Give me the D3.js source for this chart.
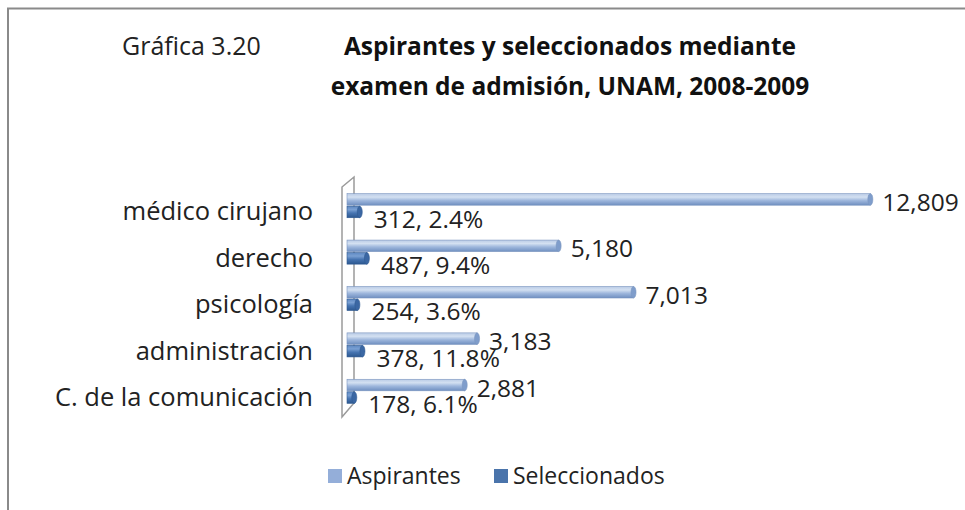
<!DOCTYPE html>
<html>
<head>
<meta charset="utf-8">
<script src="https://cdn.jsdelivr.net/npm/d3@7"></script>
<style>
  html, body { margin: 0; padding: 0; background: #fff; }
  svg { display: block; font-family: "Open Sans", sans-serif; }
</style>
</head>
<body>
<svg id="chart" width="965" height="510"></svg>
<script>
const categories = ["médico cirujano", "derecho", "psicología ", "administración", "C. de la comunicación"];
const aspirantes = [12809, 5180, 7013, 3183, 2881];
const seleccionados = [312, 487, 254, 378, 178];
const porcentajes = ["2.4%", "9.4%", "3.6%", "11.8%", "6.1%"];
const seriesNames = ["Aspirantes", "Seleccionados"];
const xTicks = [0, 2000, 4000, 6000, 8000, 10000, 12000, 14000];

const svg = d3.select("#chart");
const fmt = d3.format(",");

// defs: gradients for cylinder look
const defs = svg.append("defs");
function grad(id, stops) {
  const g = defs.append("linearGradient").attr("id", id)
    .attr("x1", 0).attr("y1", 0).attr("x2", 0).attr("y2", 1);
  stops.forEach(s => g.append("stop").attr("offset", s[0]).attr("stop-color", s[1]));
}
grad("gA", [[0, "#b9cbe6"], [0.3, "#d3e0f1"], [0.6, "#9db6dc"], [1, "#6f8fc0"]]);
grad("gS", [[0, "#5d88c2"], [0.3, "#7aa0d3"], [0.6, "#4674b1"], [1, "#2c578f"]]);

// outer frame
svg.append("path")
  .attr("d", "M8,512 L8,8.5 L967,8.5")
  .attr("fill", "none").attr("stroke", "#8a8a8a").attr("stroke-width", 2);

// titles
svg.append("text").attr("x", 122).attr("y", 55)
  .attr("font-size", 25).attr("fill", "#222").text("Gráfica 3.20");
const titleLines = ["Aspirantes y seleccionados mediante", "examen de admisión, UNAM, 2008-2009"];
svg.selectAll("text.title").data(titleLines).join("text")
  .attr("class", "title")
  .attr("x", 570).attr("y", (d, i) => 55 + i * 40)
  .attr("text-anchor", "middle").attr("font-weight", "bold")
  .attr("font-size", 24.5).attr("fill", "#111").text(d => d);

// scales
const x = d3.scaleLinear().domain([0, 14000]).range([347, 919]);
const y = d3.scaleBand().domain(categories).range([183, 415])
  .paddingInner(0.46).paddingOuter(0.23);
const ys = d3.scaleBand().domain(seriesNames).range([0, y.bandwidth()]);

// 3D wall (left side panel)
const yTop = y.range()[0], yBot = y.range()[1];
svg.append("path")
  .attr("d", `M342,${yTop + 4} L354,${yTop - 6} L354,${yBot - 12} L342,${yBot + 2} Z`)
  .attr("fill", "#fff").attr("stroke", "#9a9a9a").attr("stroke-width", 1.5);

// bars
function drawSeries(values, name, gid, capFill, stroke) {
  const g = svg.append("g");
  const h = ys.bandwidth() - 1;
  values.forEach((v, i) => {
    const y0 = y(categories[i]) + ys(name);
    const x0 = x(0), x1 = x(v);
    g.append("rect").attr("x", x0).attr("y", y0).attr("width", x1 - x0).attr("height", h)
      .attr("fill", `url(#${gid})`).attr("stroke", stroke).attr("stroke-width", 0.6);
    g.append("ellipse").attr("cx", x1).attr("cy", y0 + h / 2).attr("rx", 2.5).attr("ry", h / 2)
      .attr("fill", capFill).attr("stroke", stroke).attr("stroke-width", 0.6);
  });
}
drawSeries(aspirantes, "Aspirantes", "gA", "#7f9dcb", "#7b95bf");
drawSeries(seleccionados, "Seleccionados", "gS", "#3b67a3", "#2f5a92");

// data labels
const bh = ys.bandwidth() - 1;
svg.append("g").selectAll("text").data(aspirantes).join("text")
  .attr("x", d => x(d) + 12)
  .attr("y", (d, i) => y(categories[i]) + ys("Aspirantes") + bh / 2 + 3)
  .attr("dy", "0.35em").attr("font-size", 24.5).attr("fill", "#222")
  .text(d => fmt(d));
svg.append("g").selectAll("text").data(seleccionados).join("text")
  .attr("x", d => x(d) + 14)
  .attr("y", (d, i) => y(categories[i]) + ys("Seleccionados") + bh / 2 + 7)
  .attr("dy", "0.35em").attr("font-size", 24.5).attr("fill", "#222")
  .text((d, i) => `${fmt(d)}, ${porcentajes[i]}`);

// category axis labels
const yAxis = d3.axisLeft(y).tickSize(0).tickPadding(0);
const ag = svg.append("g").attr("transform", "translate(313,6)").call(yAxis);
ag.select(".domain").remove();
ag.selectAll("text").attr("font-size", 25.5).attr("fill", "#222")
  .attr("font-family", "'Open Sans', sans-serif");

// legend
const legendX = [328, 494];
const legendColors = ["#94aed9", "#4a74ab"];
const lg = svg.append("g");
seriesNames.forEach((n, i) => {
  lg.append("rect").attr("x", legendX[i]).attr("y", 469).attr("width", 14).attr("height", 14)
    .attr("fill", legendColors[i]);
  lg.append("text").attr("x", legendX[i] + 19).attr("y", 476).attr("dy", "0.35em")
    .attr("font-size", 23).attr("fill", "#222").text(n);
});
</script>
</body>
</html>
